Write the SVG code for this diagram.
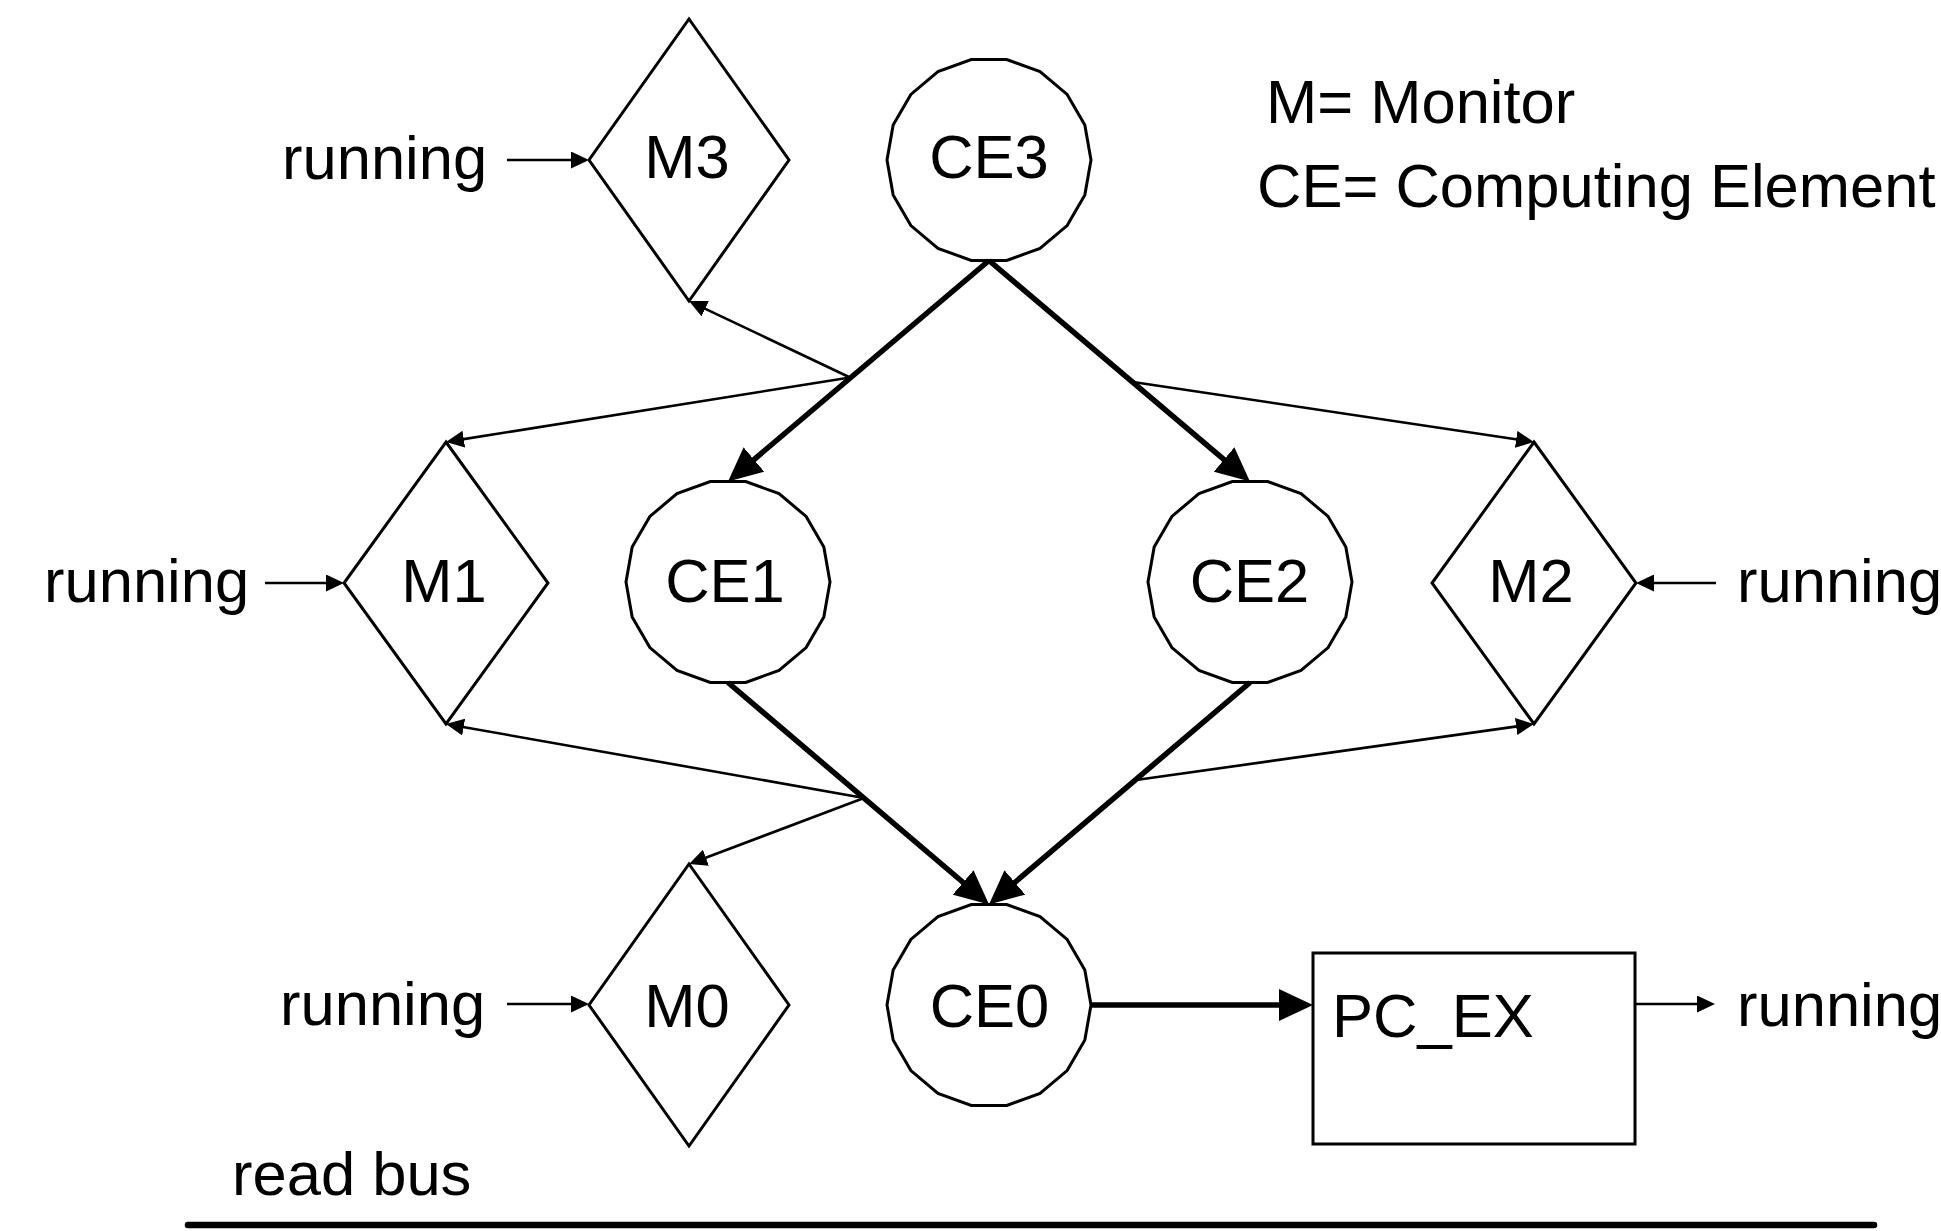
<svg xmlns="http://www.w3.org/2000/svg" width="1941" height="1231" viewBox="0 0 1941 1231">
<style>
text{font-family:"Liberation Sans",Arial,sans-serif;font-size:61.5px;fill:#000}
.mid{text-anchor:middle}
.shape{fill:#fff;stroke:#000;stroke-width:3;stroke-linejoin:miter}
.thick{stroke:#000;stroke-width:5.5;fill:none;marker-end:url(#big)}
.thin{stroke:#000;stroke-width:2.6;fill:none;marker-end:url(#small)}
</style>
<defs>
<marker id="big" markerUnits="userSpaceOnUse" viewBox="0 0 34 32" markerWidth="34" markerHeight="32" refX="14" refY="16" orient="auto"><path d="M0,0 L34,16 L0,32 z" fill="#000"/></marker>
<marker id="small" markerUnits="userSpaceOnUse" viewBox="0 0 18 17" markerWidth="18" markerHeight="17" refX="8" refY="8.5" orient="auto"><path d="M0,0 L18,8.5 L0,17 z" fill="#000"/></marker>
<polygon id="ce" points="102,0 95.85,34.88 78.13,65.57 51,88.33 17.71,100.45 -17.71,100.45 -51,88.33 -78.13,65.57 -95.85,34.88 -102,0 -95.85,-34.88 -78.13,-65.57 -51,-88.33 -17.71,-100.45 17.71,-100.45 51,-88.33 78.13,-65.57 95.85,-34.88"/>
</defs>
<rect width="1941" height="1231" fill="#fff"/>

<g id="legend">
<text x="1266" y="123">M= Monitor</text>
<text x="1257" y="207">CE= Computing Element</text>
</g>

<g id="CE3"><use href="#ce" class="shape" transform="translate(989,160)"/><text class="mid" x="989" y="178">CE3</text></g>
<g id="CE1"><use href="#ce" class="shape" transform="translate(728,582)"/><text class="mid" x="725" y="602">CE1</text></g>
<g id="CE2"><use href="#ce" class="shape" transform="translate(1250,582)"/><text class="mid" x="1249.5" y="602">CE2</text></g>
<g id="CE0"><use href="#ce" class="shape" transform="translate(989,1005)"/><text class="mid" x="989.5" y="1027">CE0</text></g>

<g id="M3"><polygon class="shape" points="689,19 789,160 689,301 589,160"/><text class="mid" x="687" y="178">M3</text></g>
<g id="M1"><polygon class="shape" points="446,442 548,583 446,724 344,583"/><text class="mid" x="444" y="602">M1</text></g>
<g id="M2"><polygon class="shape" points="1534,442 1636,583 1534,724 1432,583"/><text class="mid" x="1531" y="602">M2</text></g>
<g id="M0"><polygon class="shape" points="689,864 789,1005 689,1146 589,1005"/><text class="mid" x="687" y="1027">M0</text></g>

<g id="PC_EX"><rect class="shape" x="1313" y="953" width="322" height="191"/><text x="1332" y="1037">PC_EX</text></g>

<g id="labels">
<text x="282" y="179">running</text>
<text x="44" y="602">running</text>
<text x="280" y="1025">running</text>
<text x="1737" y="602">running</text>
<text x="1737" y="1026">running</text>
<text x="232" y="1195">read bus</text>
</g>

<g id="read-bus"><line x1="188" y1="1225" x2="1874" y2="1225" stroke="#000" stroke-width="6.5" stroke-linecap="round"/></g>

<g id="connectors">
<line class="thick" x1="989" y1="260.5" x2="743.3" y2="468.6"/>
<line class="thick" x1="989" y1="260.5" x2="1234.7" y2="468.6"/>
<line class="thick" x1="728" y1="682.5" x2="973.8" y2="891.5"/>
<line class="thick" x1="1250" y1="682.5" x2="1004.2" y2="891.5"/>
<line class="thick" x1="1091" y1="1005" x2="1293" y2="1005"/>

<line class="thin" x1="507" y1="160" x2="579" y2="160"/>
<line class="thin" x1="265" y1="583" x2="334" y2="583"/>
<line class="thin" x1="507" y1="1004" x2="579" y2="1004"/>
<line class="thin" x1="1716" y1="583" x2="1646" y2="583"/>
<line class="thin" x1="1636" y1="1004" x2="1705" y2="1004"/>

<line class="thin" x1="850" y1="377.5" x2="698" y2="305.3"/>
<line class="thin" x1="850" y1="377.5" x2="455.9" y2="440.4"/>
<line class="thin" x1="1133" y1="382" x2="1524.1" y2="440.5"/>
<line class="thin" x1="864" y1="798" x2="455.8" y2="725.7"/>
<line class="thin" x1="864" y1="798" x2="698.4" y2="860.5"/>
<line class="thin" x1="1136" y1="780" x2="1524.1" y2="725.4"/>
</g>
</svg>
